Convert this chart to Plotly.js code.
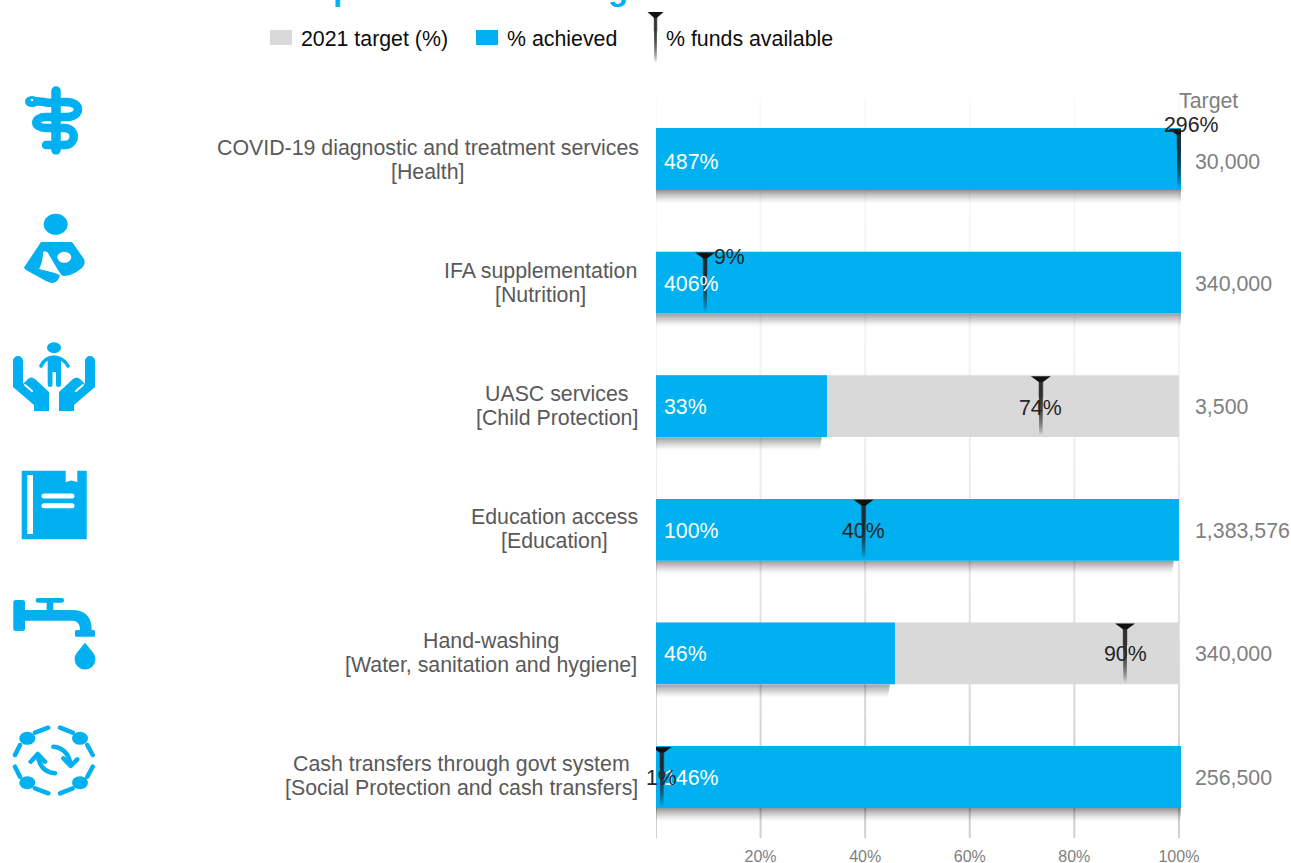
<!DOCTYPE html>
<html><head><meta charset="utf-8">
<script src="https://cdn.plot.ly/plotly-3.0.1.min.js"></script>
<style>html,body{margin:0;padding:0;background:#fff;overflow:hidden}#c{width:1291px;height:863px}</style>
</head><body><div id="c"></div>
<script>
// ---- data ----
var labelLine1 = ['COVID-19 diagnostic and treatment services','IFA supplementation','UASC services','Education access','Hand-washing','Cash transfers through govt system'];
var labelLine2 = ['[Health]','[Nutrition]','[Child Protection]','[Education]','[Water, sanitation and hygiene]','[Social Protection and cash transfers]'];
var targetPct  = [100,100,100,100,100,100];
var achieved   = [487,406,32.7,100,45.7,146];
var funds      = [296,9.4,73.6,39.7,89.7,1.1];
var targets    = ['30,000','340,000','3,500','1,383,576','340,000','256,500'];
var tickVals   = [20,40,60,80,100];

// ---- page layout (pixels) ----
var W=1291,H=863,L=656,R=1181,T=98,B=838,pw=R-L,ph=B-T;
var px=function(x){return (x-L)/pw}, py=function(y){return (B-y)/ph};
var positions=labelLine1.map(function(_,i){return i});
var labelCentre=[427.5,540,556.5,554.5,490.5,461];
var labelDrop=[2,1,1,0,1,0], valueDrop=[2,0,0,0,0,0];
var BLUE='#00B0F0',GREY='#D9D9D9',TXT='#595959',MID='#7F7F7F',DARK='#262626',FONT='"Liberation Sans",Arial,sans-serif',FS=21.33;
var fundLabel=[{dx:13,dy:-34},{dx:24,dy:-26},{dx:0,dy:2},{dx:0,dy:1},{dx:0,dy:1},{dx:0,dy:1}];

var shapes=[],annotations=[];
// gridlines strengthen towards the bottom of the plot
[0].concat(tickVals).forEach(function(v){
  for(var k=0;k<30;k++){
    var a=k/29;
    shapes.push({type:'line',layer:'below',xref:'x',yref:'paper',x0:v,x1:v,y0:1-k/30,y1:1-(k+1)/30,
      line:{color:'#CFCFCF',width:2},opacity:Math.min(1,0.12+a*a*1.0)});
  }
});
// soft shadow under the achieved bars
achieved.forEach(function(v,i){
  for(var k=0;k<13;k++){
    shapes.push({type:'rect',layer:'below',xref:'x',yref:'y',ysizemode:'pixel',yanchor:i,
      x0:0,x1:Math.min(v-1.0-k*0.03,100.4),y0:-31-k,y1:-32-k,line:{width:0},fillcolor:'#000',
      opacity:0.4*Math.pow(1-k/13,1.3)});
  }
});
// funds marker: a cap with a stem fading downward (overlapping steps give the fade)
function tee(base,top,height,capW,stemW){
  var s=[],common={layer:'above',xsizemode:'pixel',ysizemode:'pixel'};
  s.push(Object.assign({type:'path',path:'M'+(-capW/2)+','+top+' L'+(capW/2)+','+top+' L'+(stemW/2)+','+(top-6)+' L'+(-stemW/2)+','+(top-6)+' Z',fillcolor:'#111',line:{width:0}},common,base));
  var n=16,start=(height-6)*0.3,step=((height-6)-start)/n;
  for(var k=1;k<=n;k++){
    s.push(Object.assign({type:'rect',x0:-stemW/2,x1:stemW/2,y0:top-5,y1:top-6-start-k*step,fillcolor:'#222',line:{width:0},opacity:0.12},common,base));
  }
  s.push(Object.assign({type:'rect',x0:-stemW/2-1,x1:stemW/2+1,y0:top-5,y1:top-6-start,fillcolor:'#222',line:{width:0},opacity:0.25},common,base));
  return s;
}
funds.forEach(function(v,i){
  shapes=shapes.concat(tee({xref:'x',yref:'y',xanchor:Math.min(v,100),yanchor:i},30,58,20,3.5));
});
shapes=shapes.concat(tee({xref:'paper',yref:'paper',xanchor:px(655.5),yanchor:py(12)},0,50,16,2.5));
// legend swatches keep the reference's wider proportions
[[281,GREY],[487,BLUE]].forEach(function(p){
  shapes.push({type:'rect',layer:'above',xref:'paper',yref:'paper',x0:px(p[0]-11),x1:px(p[0]+11),y0:py(45),y1:py(30),fillcolor:p[1],line:{width:0}});
});

function note(o){annotations.push(Object.assign({showarrow:false,borderpad:0,font:{family:FONT,size:FS,color:TXT}},o));}
positions.forEach(function(i){
  note({xref:'paper',yref:'y',x:px(labelCentre[i]),y:i,yshift:13-labelDrop[i],xanchor:'center',yanchor:'middle',text:labelLine1[i]});
  note({xref:'paper',yref:'y',x:px(labelCentre[i]),y:i,yshift:-11-labelDrop[i],xanchor:'center',yanchor:'middle',text:labelLine2[i]});
  note({xref:'paper',yref:'y',x:px(662.5),y:i,yshift:-1-valueDrop[i],xanchor:'left',yanchor:'middle',text:Math.round(achieved[i])+'%',font:{family:FONT,size:FS,color:'#fff'}});
  note({xref:'paper',yref:'y',x:px(1193.5),y:i,yshift:-1-valueDrop[i],xanchor:'left',yanchor:'middle',text:targets[i],font:{family:FONT,size:FS,color:MID}});
  var f=fundLabel[i];
  note({xref:'x',yref:'y',x:Math.min(funds[i],100),y:i,xshift:f.dx,yshift:-f.dy,xanchor:'center',yanchor:'middle',text:Math.round(funds[i])+'%',font:{family:FONT,size:FS,color:DARK}});
});
note({xref:'paper',yref:'paper',x:px(1208.5),y:py(101),xanchor:'center',yanchor:'middle',text:'Target',font:{family:FONT,size:21.33,color:MID}});

// ---- icons ----
var iconBlue='#00B0F0';
var S='fill="none" stroke="'+iconBlue+'" stroke-linecap="round" stroke-linejoin="round"';
var F='fill="'+iconBlue+'"';
function hand(){return '<path '+F+' d="M13,361 A5,5 0 0 1 23,361 V384 L28,379 Q31,376 35,379 L49,392 V411 H34 V405 L13,387 Z"/><path d="M25,385 L32,391" stroke="#fff" stroke-width="2" stroke-linecap="round"/>';}
var icons=[
 {y:80,h:80,svg:'<path '+S+' stroke-width="9.5" d="M56,91 V150"/><path '+S+' stroke-width="8.5" d="M31,102 C40,99 45,105 56,102 L66,102 C82,102 82,117 66,117 L46,117 C33,117 33,128 46,128 L64,128 C77,128 77,145 64,145 L46,145"/><ellipse cx="32" cy="101.5" rx="7" ry="5.5" '+F+'/><circle cx="32" cy="100" r="1.3" fill="#fff"/>'},
 {y:210,h:80,svg:'<ellipse cx="55.7" cy="224.3" rx="12" ry="10.5" '+F+'/><path '+F+' d="M41,242 H72 L84,259 Q86,264 82,268 Q72,276 64,276 Q62,276 60,274 Q59,282 53,283 Q50,283 46,281 L26,270 Q23,268 25,266 Z"/><path fill="#fff" d="M43,252 Q46,250 48,253 L58,270 L62,276 L55,273 L39,269 Q43,262 43,252 Z"/><ellipse cx="64.3" cy="257.3" rx="7" ry="5.5" fill="#fff"/>'},
 {y:335,h:85,svg:'<ellipse cx="54" cy="347.7" rx="7" ry="5.5" '+F+'/><path '+S+' stroke-width="3.6" d="M41,366 Q44,358 54,357 Q64,358 68,366"/><path '+F+' d="M47.7,357 H61 V385 Q61,387 58.5,387 Q56,387 56,385 V372 H52.5 V385 Q52.5,387 50,387 Q47.7,387 47.7,385 Z"/>'+hand()+'<g transform="translate(108,0) scale(-1,1)">'+hand()+'</g>'},
 {y:465,h:80,svg:'<path '+F+' d="M21.7,470.7 H65.7 V482 L71.5,480.5 L77.3,482 V470.7 H86.7 V539.3 H21.7 Z"/><rect x="27.3" y="475" width="5.7" height="59" fill="#fff"/><path stroke="#fff" stroke-width="5" stroke-linecap="round" d="M44,496 H72 M44,505.7 H72"/>'},
 {y:595,h:75,svg:'<rect x="13.3" y="600" width="11.7" height="31" rx="2.5" '+F+'/><path '+F+' d="M25,610 H71.7 Q91.7,610 91.7,630 H80 Q80,620.7 72,620.7 H25 Z"/><rect x="75" y="630" width="20" height="6.7" rx="1.5" '+F+'/><rect x="46.7" y="601" width="6.6" height="10" '+F+'/><rect x="35.7" y="598" width="28.3" height="4.7" rx="2.3" '+F+'/><path '+F+' d="M85,642.7 L93,652.5 A10.4,10.4 0 1 1 77,652.5 Z"/>'},
 {y:722,h:76,svg:'<g '+F+'><ellipse cx="27.3" cy="738.3" rx="8" ry="6.5"/><ellipse cx="80" cy="738.3" rx="8" ry="6.5"/><ellipse cx="27.3" cy="782.7" rx="8" ry="6.5"/><ellipse cx="80" cy="782.7" rx="8" ry="6.5"/></g><path '+S+' stroke-width="4.5" d="M35,732.7 L48.3,727.7 M60,727.7 L72.7,732.7 M87.3,745 L92.7,755 M92.7,766.7 L87.3,776.7 M72.7,788.3 L60,793.3 M35,788.3 L48.3,793.3 M20,745 L15,755 M15,766.7 L20,776.7 M53.3,746.7 Q68,748 70.7,765 M63.3,758.3 L70.7,766 L77.3,759.3 M55,773.3 Q40,772 37.7,755 M30.7,761.7 L37.7,754 L45,761.7"/>'}
];
var images=icons.map(function(ic){
  var svg='<svg xmlns="http://www.w3.org/2000/svg" width="440" height="'+(ic.h*4)+'" viewBox="0 '+ic.y+' 110 '+ic.h+'">'+ic.svg+'</svg>';
  return {source:'data:image/svg+xml;charset=utf-8,'+encodeURIComponent(svg),xref:'paper',yref:'paper',x:px(0),y:py(ic.y),sizex:110/pw,sizey:ic.h/ph,xanchor:'left',yanchor:'top',sizing:'stretch',layer:'above'};
});

var traces=[
 {type:'bar',orientation:'h',name:'2021 target (%)',legend:'legend',x:targetPct,y:positions,width:0.5,marker:{color:GREY}},
 {type:'bar',orientation:'h',name:'% achieved',legend:'legend2',x:achieved,y:positions,width:0.5,marker:{color:BLUE}},
 {type:'scatter',mode:'markers',name:'% funds available',legend:'legend3',x:funds.map(function(v){return Math.min(v,100)}),y:positions,marker:{size:6,color:'rgba(0,0,0,0)'}}
];
function legendAt(x){return {orientation:'h',x:px(x),y:py(38),xanchor:'left',yanchor:'middle',font:{family:FONT,size:FS,color:'#0D0D0D'},bgcolor:'rgba(0,0,0,0)',borderwidth:0};}
var layout={
 width:W,height:H,autosize:false,paper_bgcolor:'#fff',plot_bgcolor:'#fff',barmode:'overlay',
 margin:{l:L,r:W-R,t:T,b:H-B,pad:0},
 font:{family:FONT},
 title:{text:'COVID-19 response and funding status',font:{family:FONT,size:33,color:BLUE,weight:700},x:122/W,xanchor:'left',xref:'container',y:1,yanchor:'bottom',yref:'container',pad:{b:0},automargin:false},
 xaxis:{range:[0,100.4],tickvals:tickVals,ticktext:tickVals.map(function(v){return v+'%'}),showgrid:false,zeroline:false,showline:false,ticks:'',tickfont:{family:FONT,size:16,color:MID},ticklabelstandoff:7},
 yaxis:{range:[5.4935,-0.4935],showticklabels:false,showgrid:false,zeroline:false,showline:false,ticks:''},
 showlegend:true,
 legend:legendAt(261),legend2:legendAt(467),legend3:legendAt(626),
 shapes:shapes,annotations:annotations,images:images
};
Plotly.newPlot('c',traces,layout,{displayModeBar:false});
</script></body></html>
